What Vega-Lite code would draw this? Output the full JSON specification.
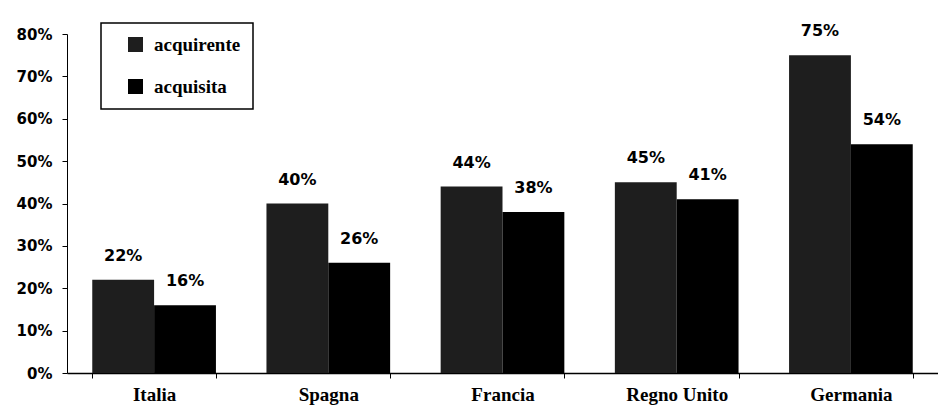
{
  "$schema": "https://vega.github.io/schema/vega-lite/v6.json",
  "width": 871,
  "height": 339,
  "autosize": {"type": "none"},
  "padding": {"left": 67, "top": 34, "right": 0, "bottom": 32},
  "background": "white",
  "data": {
    "values": [
      {"paese": "Italia", "ruolo": "acquirente", "valore": 0.22},
      {"paese": "Italia", "ruolo": "acquisita", "valore": 0.16},
      {"paese": "Spagna", "ruolo": "acquirente", "valore": 0.40},
      {"paese": "Spagna", "ruolo": "acquisita", "valore": 0.26},
      {"paese": "Francia", "ruolo": "acquirente", "valore": 0.44},
      {"paese": "Francia", "ruolo": "acquisita", "valore": 0.38},
      {"paese": "Regno Unito", "ruolo": "acquirente", "valore": 0.45},
      {"paese": "Regno Unito", "ruolo": "acquisita", "valore": 0.41},
      {"paese": "Germania", "ruolo": "acquirente", "valore": 0.75},
      {"paese": "Germania", "ruolo": "acquisita", "valore": 0.54}
    ]
  },
  "encoding": {
    "x": {
      "field": "paese", "type": "nominal", "sort": null,
      "scale": {"paddingInner": 0.29, "paddingOuter": 0.145},
      "axis": {
        "title": null, "labelAngle": 0, "domainColor": "black", "domainWidth": 1.5,
        "tickColor": "black", "tickSize": 5, "tickBand": "extent",
        "labelFont": "Liberation Serif", "labelFontWeight": "bold", "labelFontSize": 19, "labelColor": "black",
        "labelPadding": 7, "grid": false
      }
    },
    "xOffset": {"field": "ruolo", "type": "nominal", "scale": {"paddingInner": 0}},
    "y": {
      "field": "valore", "type": "quantitative",
      "scale": {"domain": [0, 0.8], "nice": false},
      "axis": {
        "title": null, "format": ".0%", "values": [0, 0.1, 0.2, 0.3, 0.4, 0.5, 0.6, 0.7, 0.8],
        "grid": false, "domainColor": "black", "tickColor": "black", "tickSize": 5,
        "labelFont": "DejaVu Sans", "labelFontWeight": "bold", "labelFontSize": 15,
        "labelColor": "black", "labelPadding": 10
      }
    }
  },
  "layer": [
    {
      "mark": {"type": "bar"},
      "encoding": {
        "color": {
          "field": "ruolo", "type": "nominal",
          "scale": {"domain": ["acquirente", "acquisita"], "range": ["#1e1e1e", "#000000"]},
          "legend": {
            "title": null, "orient": "none", "legendX": 34, "legendY": -11,
            "direction": "vertical", "strokeColor": "black",
            "fillColor": "white", "padding": 12, "symbolOffset": 13,
            "symbolType": "square", "symbolSize": 225, "symbolStrokeWidth": 0,
            "rowPadding": 22, "labelFont": "Liberation Serif", "labelFontWeight": "bold",
            "labelFontSize": 19, "labelColor": "black", "labelOffset": 9,
            "encode": {"legend": {"update": {"strokeWidth": {"value": 1.5}}}}
          }
        }
      }
    },
    {
      "mark": {"type": "text", "baseline": "alphabetic", "dy": -19, "font": "DejaVu Sans", "fontWeight": "bold", "fontSize": 16, "color": "black"},
      "encoding": {"text": {"field": "valore", "type": "quantitative", "format": ".0%"}}
    }
  ],
  "config": {"view": {"stroke": null}}
}
